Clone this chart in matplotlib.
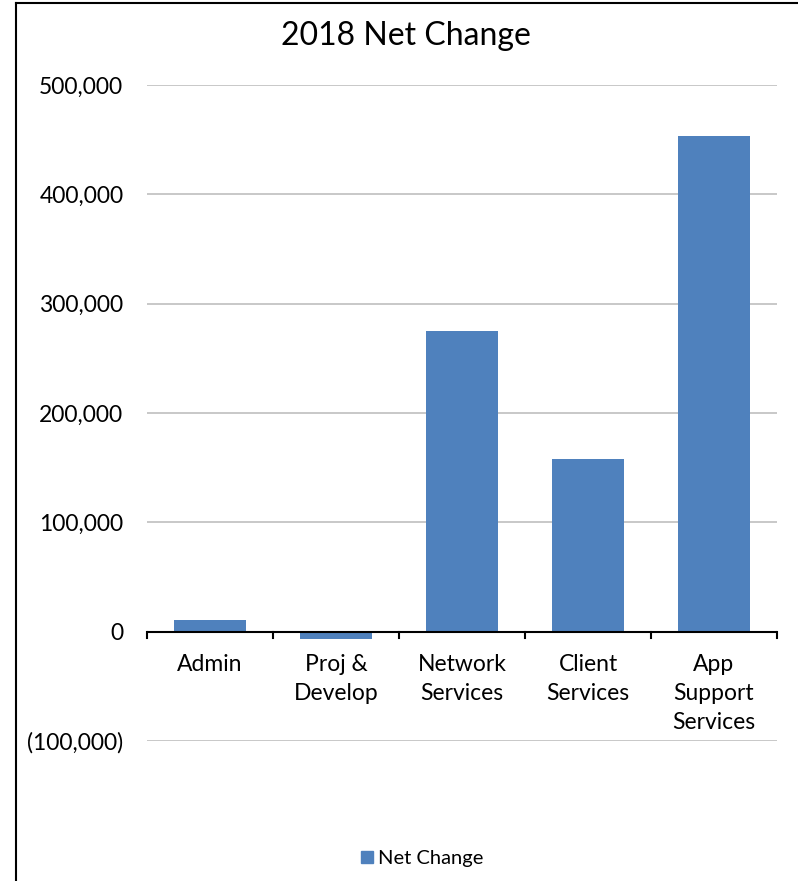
import matplotlib.pyplot as plt
from matplotlib.lines import Line2D
from matplotlib.ticker import FuncFormatter

categories = ["Admin", "Proj &\nDevelop", "Network\nServices", "Client\nServices", "App\nSupport\nServices"]
net_change = [10500, -6700, 275000, 157500, 453500]
y_ticks = [-100000, 0, 100000, 200000, 300000, 400000, 500000]

plt.rcParams['font.family'] = ['Lato', 'DejaVu Sans']

fig = plt.figure(figsize=(7.98, 8.81), dpi=100)
ax = fig.add_axes([147 / 798, 1 - 741 / 881, 630 / 798, 656 / 881])

x = list(range(len(categories)))
ax.bar(x, net_change, width=0.57, color='#4F81BD', zorder=3)

ax.set_xlim(-0.5, len(categories) - 0.5)
ax.set_ylim(-100000, 500000)
ax.set_yticks(y_ticks)
ax.yaxis.set_major_formatter(FuncFormatter(
    lambda v, p: '0' if v == 0 else (f'{v:,.0f}' if v > 0 else f'({-v:,.0f})')))
ax.tick_params(axis='y', length=0, pad=17, labelsize=16.5)
for v in y_ticks:
    if v != 0:
        ax.axhline(v, color='#BFBFBF', lw=1.2, zorder=1)

# category axis sits on the zero line, ticks between categories
ax.axhline(0, color='black', lw=1.5, zorder=4)
ax.set_xticks([])
for b in [i - 0.5 for i in range(len(categories) + 1)]:
    ax.plot([b, b], [0, -5500], color='black', lw=1.5, zorder=4, clip_on=False)
for i, name in enumerate(categories):
    ax.text(i, -20500, name, ha='center', va='top', fontsize=16.5,
            linespacing=1.47, zorder=5)

for s in ax.spines.values():
    s.set_visible(False)

fig.text(406 / 798, 1 - 36 / 881, "2018 Net Change",
         ha='center', va='center', fontsize=23)

# legend
handle = Line2D([], [], marker='s', color='#4F81BD', linestyle='none', markersize=9)
fig.legend([handle], ["Net Change"], loc='center', bbox_to_anchor=(420 / 798, 1 - 858 / 881),
           frameon=False, fontsize=14.5, handletextpad=0.05, handlelength=1.0)

# chart border, left and top edges
for xs, ys in [((16, 16), (0, 878)), ((16, 798), (878, 878))]:
    fig.add_artist(Line2D([v / 798 for v in xs], [v / 881 for v in ys],
                          color='black', lw=1.5))

fig.savefig('out.png', dpi=100)
